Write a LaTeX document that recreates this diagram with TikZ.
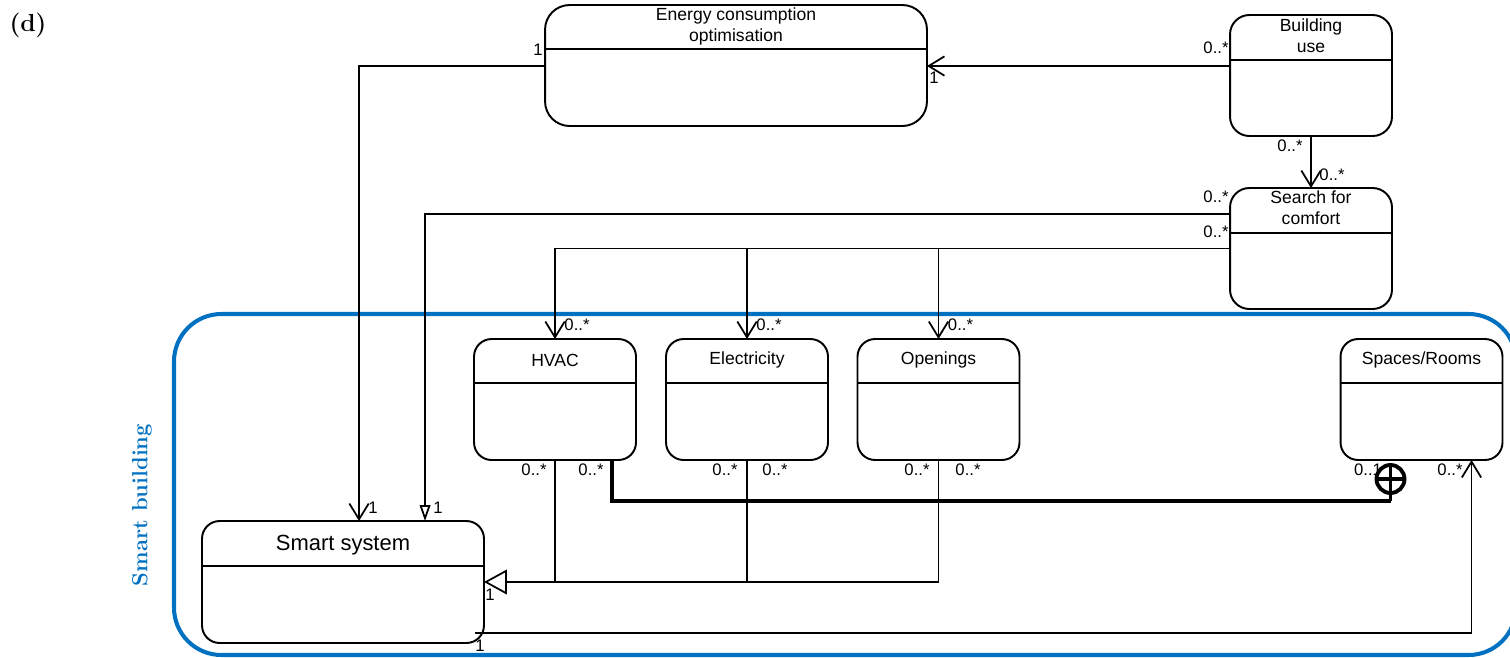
\documentclass[tikz,border=0pt]{standalone}
\usepackage{fontspec}
\newfontfamily\umlfont{Liberation Sans}
\usepackage{tikz}
\usetikzlibrary{arrows.meta,calc}
\definecolor{sbblue}{RGB}{0,112,192}

\begin{document}
\begin{tikzpicture}[x=0.02cm,y=-0.02cm,
  umlbox/.style={draw,line width=1.1pt,rounded corners=10pt,inner sep=0pt,outer sep=0pt,minimum width=3.24cm,minimum height=2.42cm},
  boxtitle/.style={font=\umlfont\fontsize{10}{12}\selectfont,align=center,inner sep=0pt},
  mult/.style={font=\umlfont\fontsize{9.5}{10}\selectfont,inner sep=0pt},
  assoc/.style={line width=1pt,-{Straight Barb[length=9pt,width=11pt]}},
  comp/.style={line width=2pt}]
\useasboundingbox (0,0) rectangle (1510,657);
\node[font=\bfseries\fontsize{14}{16}\selectfont] (tag) at (28,25) {(d)};
% smart building frame
\draw[sbblue,line width=2.3pt,rounded corners=27pt] (174,314) rectangle (1516,655);
\node[rotate=90,text=sbblue,font=\bfseries\fontsize{12.5}{14}\selectfont] (sblabel) at (142,505) {Smart building};

% classes
\node[umlbox,minimum width=7.64cm,rounded corners=14pt] (eco) at (736,65.5) {};
\draw[line width=1.1pt] ($(eco.north west)+(0,44)$) -- ($(eco.north east)+(0,44)$);
\node[boxtitle] (eco-t) at ($(eco.north)+(0,21)$) {Energy consumption\\optimisation};
\node[umlbox,rounded corners=11pt] (bu) at (1311,75.5) {};
\draw[line width=1.1pt] ($(bu.north west)+(0,45)$) -- ($(bu.north east)+(0,45)$);
\node[boxtitle] (bu-t) at ($(bu.north)+(0,20.5)$) {Building\\use};
\node[umlbox,rounded corners=11pt] (sfc) at (1311,248.5) {};
\draw[line width=1.1pt] ($(sfc.north west)+(0,45)$) -- ($(sfc.north east)+(0,45)$);
\node[boxtitle] (sfc-t) at ($(sfc.north)+(0,20)$) {Search for\\comfort};
\foreach \n/\cx/\txt in {hvac/555/HVAC,elec/747/Electricity,opng/938.5/Openings,rooms/1421.5/{Spaces/Rooms}}{
  \node[umlbox] (\n) at (\cx,399.5) {};
  \draw[line width=1.1pt] ($(\n.north west)+(0,44)$) -- ($(\n.north east)+(0,44)$);
  \node[boxtitle] (\n-t) at ($(\n.north)+(0,21)$) {\txt};
}
\node[umlbox,minimum width=5.64cm,minimum height=2.44cm] (smart) at (343,582) {};
\draw[line width=1.1pt] ($(smart.north west)+(0,45)$) -- ($(smart.north east)+(0,45)$);
\node[boxtitle,font=\umlfont\fontsize{12.5}{14}\selectfont] (smart-t) at ($(smart.north)+(0,24)$) {Smart system};

% associations
\draw[assoc] (eco.west |- 0,66) -| ($(smart.north west)+(157,0)$);
\node[mult] at (538,50) {1};
\node[mult] at (373,508) {1};
\draw[assoc] (bu.west |- 0,66) -- (eco.east |- 0,66);
\node[mult] at (1216,48) {0..*};
\node[mult] at (934,78) {1};
\draw[assoc] (bu.south) -- (sfc.north);
\node[mult] at (1290,146) {0..*};
\node[mult] at (1332,175) {0..*};
\draw[line width=1pt,-{Triangle[open,length=9pt,width=6pt]}] (sfc.west |- 0,214) -| ($(smart.north west)+(223,0)$);
\node[mult] at (1216,197) {0..*};
\node[mult] at (438,508) {1};
\draw[assoc] (sfc.west) -| (hvac.north);
\foreach \n in {elec,opng} \draw[assoc] (sfc.west -| \n.north) -- (\n.north);
\node[mult] at (1216,232) {0..*};
\foreach \n in {hvac,elec,opng} \node[mult] at ($(\n.north)+(22,-14)$) {0..*};

% generalisation
\foreach \n in {hvac,elec} \draw[line width=1pt] (\n.south) -- (\n.south |- smart.east);
\draw[line width=1pt,-{Triangle[open,length=13pt,width=14pt]}] (opng.south) |- (smart.east);
\node[mult] at (490,595) {1};

% composition
\node[mult] at (1368,470) {0..1};
\coordinate (cj) at ($(rooms.south)+(-31,41)$);
\draw[comp] ($(hvac.south)+(57,0)$) |- (cj);
\foreach \n/\dx in {elec/50,opng/51} \draw[comp] ($(\n.south)+(\dx,0)$) -- ($(\n.south)+(\dx,0)$ |- cj);
\node[circle,draw,fill=white,line width=2.2pt,inner sep=0pt,minimum size=0.56cm] (circ) at ($(rooms.south)+(-31,19)$) {};
\draw[comp] (cj) -- (circ.south);
\draw[line width=2.2pt] (circ.north) -- (circ.south) (circ.west) -- (circ.east);
\foreach \x in {534,591,725,775,917,968} \node[mult] at (\x,470) {0..*};

% smart system -> rooms
\draw[assoc] ($(smart.south east)+(-9,-10)$) -| ($(rooms.south)+(50,0)$);
\node[mult] at (480,646) {1};
\node[mult] at (1450,470) {0..*};
\end{tikzpicture}
\end{document}
